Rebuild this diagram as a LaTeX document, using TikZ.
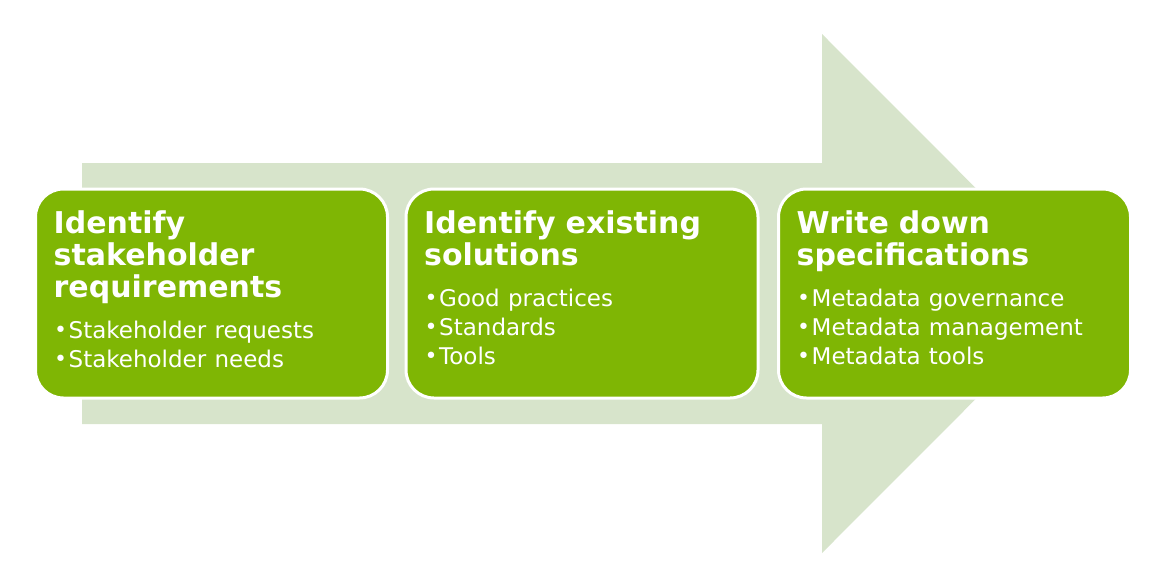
\documentclass[tikz,border=0pt]{standalone}
\usepackage{fontspec}
\setmainfont{DejaVu Sans}
\usetikzlibrary{positioning}

\definecolor{leafgreen}{RGB}{127,182,4}
\definecolor{palegreen}{RGB}{215,228,203}

\newcommand{\titlefont}{\fontsize{30}{32}\selectfont\bfseries\spaceskip=0.33em}
\newcommand{\itemfont}{\fontsize{23}{29}\selectfont\spaceskip=0.36em}
\newcommand{\bitem}[1]{\makebox[15pt][l]{\hspace{0.5pt}\raisebox{0.5pt}{\fontsize{22}{22}\selectfont\textbullet}}#1}

\begin{document}
\begin{tikzpicture}[x=1pt,y=-1pt]
        \tikzset{stepbox/.style={draw=white, line width=3pt, fill=leafgreen, rounded corners=28pt,
                minimum width=352pt, minimum height=209pt, inner sep=0pt},
                steptext/.style={anchor=north west, inner sep=0pt, text=white, text width=334pt, align=left}}
        \useasboundingbox (0,0) rectangle (1158,581);
        % big arrow behind the steps
        \fill [palegreen] (82,163) -- (822,163) -- (822,34) -- (1081,293.5) -- (822,553) -- (822,424) -- (82,424) -- cycle;
        % the three steps
        \node [stepbox] (req) at (211.5,293.5) {};
        \node [stepbox] (sol) at (582,293.5) {};
        \node [stepbox] (spec) at (954.5,293.5) {};
        \node [steptext] (reqtext) at ([xshift=19.5pt,yshift=-23pt]req.north west)
                {{\titlefont Identify\\stakeholder\\requirements\par}\vspace{12pt}
                {\itemfont\bitem{Stakeholder requests}\\\bitem{Stakeholder needs}\par}};
        \node [steptext] (soltext) at ([xshift=19.5pt,yshift=-23pt]sol.north west)
                {{\titlefont Identify existing\\solutions\par}\vspace{12pt}
                {\itemfont\bitem{Good practices}\\\bitem{Standards}\\\bitem{Tools}\par}};
        \node [steptext] (spectext) at ([xshift=19.5pt,yshift=-23pt]spec.north west)
                {{\titlefont Write down\\specifications\par}\vspace{12pt}
                {\itemfont\bitem{Metadata governance}\\\bitem{Metadata management}\\\bitem{Metadata tools}\par}};
\end{tikzpicture}
\end{document}
